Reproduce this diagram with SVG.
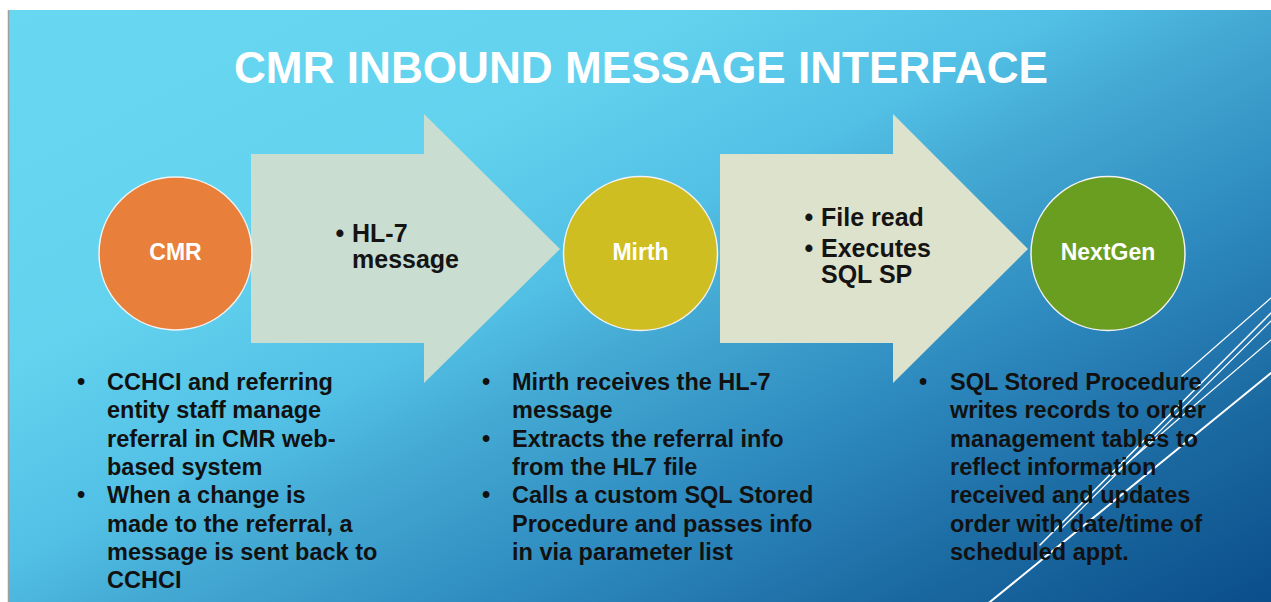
<svg xmlns="http://www.w3.org/2000/svg" width="1271" height="602" viewBox="0 0 1271 602">
  <defs>
    <linearGradient id="bg" gradientUnits="userSpaceOnUse" x1="0" y1="0" x2="521" y2="995">
      <stop offset="0" stop-color="#68D8F2"/>
      <stop offset="0.3" stop-color="#62D2EE"/>
      <stop offset="0.45" stop-color="#52BFE5"/>
      <stop offset="0.53" stop-color="#44AAD3"/>
      <stop offset="0.7" stop-color="#2B86BC"/>
      <stop offset="0.84" stop-color="#1B69A1"/>
      <stop offset="1" stop-color="#0A4E8B"/>
    </linearGradient>
    <style>
      .title { font-family: "Liberation Sans", Arial, sans-serif; font-weight: bold; font-size: 44px; fill: #FFFFFF; }
      .node { stroke: #F2F2F2; stroke-width: 1.5; }
      .nlabel { font-family: "Liberation Sans", Arial, sans-serif; font-weight: bold; font-size: 23px; fill: #FFFFFF; text-anchor: middle; }
      .atext { font-family: "Liberation Sans", Arial, sans-serif; font-weight: bold; font-size: 25px; fill: #141414; }
      .btext { font-family: "Liberation Sans", Arial, sans-serif; font-weight: bold; font-size: 23.5px; fill: #111111; }
      .bul { text-anchor: middle; }
      .deco { stroke: #FFFFFF; fill: none; stroke-linecap: round; }
    </style>
  </defs>

  <rect x="0" y="0" width="1271" height="602" fill="#FFFFFF"/>
  <rect x="9" y="10" width="1262" height="592" fill="url(#bg)"/>
  <line x1="8.5" y1="10" x2="8.5" y2="602" stroke="#A0A0A0" stroke-width="1.5"/>

  <g id="decor">
    <line class="deco" x1="1271" y1="298" x2="1182" y2="376" stroke-width="1.2"/>
    <line class="deco" x1="1271" y1="313" x2="1040" y2="545" stroke-width="1.5"/>
    <line class="deco" x1="1271" y1="321" x2="1062" y2="528" stroke-width="1.2"/>
    <line class="deco" x1="1271" y1="340" x2="1112" y2="476" stroke-width="1.2"/>
    <line class="deco" x1="1271" y1="373" x2="985" y2="606" stroke-width="2"/>
  </g>

  <text class="title" x="641" y="83" text-anchor="middle" textLength="814" lengthAdjust="spacingAndGlyphs">CMR INBOUND MESSAGE INTERFACE</text>

  <g id="connectors">
    <g id="arrow-hl7">
      <polygon points="251,154 424,154 424,114 560,249 424,383 424,343 251,343" fill="#C9DDD0"/>
      <text class="atext bul" x="340" y="242">•</text>
      <text class="atext" x="352" y="242">HL-7</text>
      <text class="atext" x="352" y="268">message</text>
    </g>
    <g id="arrow-sql">
      <polygon points="720,154 893,154 893,114 1028,249 893,383 893,343 720,343" fill="#DCE2CB"/>
      <text class="atext bul" x="809" y="226">•</text>
      <text class="atext" x="821" y="226">File read</text>
      <text class="atext bul" x="809" y="257">•</text>
      <text class="atext" x="821" y="257">Executes</text>
      <text class="atext" x="821" y="283">SQL SP</text>
    </g>
  </g>

  <g id="node-cmr">
    <circle class="node" cx="175.5" cy="253.5" r="76.5" fill="#E87F3A"/>
    <text class="nlabel" x="175.5" y="260">CMR</text>
  </g>
  <g id="node-mirth">
    <circle class="node" cx="640.5" cy="253.5" r="77" fill="#CEBE22"/>
    <text class="nlabel" x="640.5" y="260">Mirth</text>
  </g>
  <g id="node-nextgen">
    <circle class="node" cx="1108" cy="253.5" r="77" fill="#6A9E20"/>
    <text class="nlabel" x="1108" y="260">NextGen</text>
  </g>

  <g id="desc-cmr" class="btext">
    <text class="bul" x="81" y="390">•</text>
    <text x="107" y="390">CCHCI and referring</text>
    <text x="107" y="418.3">entity staff manage</text>
    <text x="107" y="446.6">referral in CMR web-</text>
    <text x="107" y="475">based system</text>
    <text class="bul" x="81" y="503.3">•</text>
    <text x="107" y="503.3">When a change is</text>
    <text x="107" y="531.6">made to the referral, a</text>
    <text x="107" y="560">message is sent back to</text>
    <text x="107" y="588.3">CCHCI</text>
  </g>

  <g id="desc-mirth" class="btext">
    <text class="bul" x="486" y="390">•</text>
    <text x="512" y="390">Mirth receives the HL-7</text>
    <text x="512" y="418.3">message</text>
    <text class="bul" x="486" y="446.6">•</text>
    <text x="512" y="446.6">Extracts the referral info</text>
    <text x="512" y="475">from the HL7 file</text>
    <text class="bul" x="486" y="503.3">•</text>
    <text x="512" y="503.3">Calls a custom SQL Stored</text>
    <text x="512" y="531.6">Procedure and passes info</text>
    <text x="512" y="560">in via parameter list</text>
  </g>

  <g id="desc-nextgen" class="btext">
    <text class="bul" x="923" y="390">•</text>
    <text x="950" y="390">SQL Stored Procedure</text>
    <text x="950" y="418.3">writes records to order</text>
    <text x="950" y="446.6">management tables to</text>
    <text x="950" y="475">reflect information</text>
    <text x="950" y="503.3">received and updates</text>
    <text x="950" y="531.6">order with date/time of</text>
    <text x="950" y="560">scheduled appt.</text>
  </g>
</svg>
